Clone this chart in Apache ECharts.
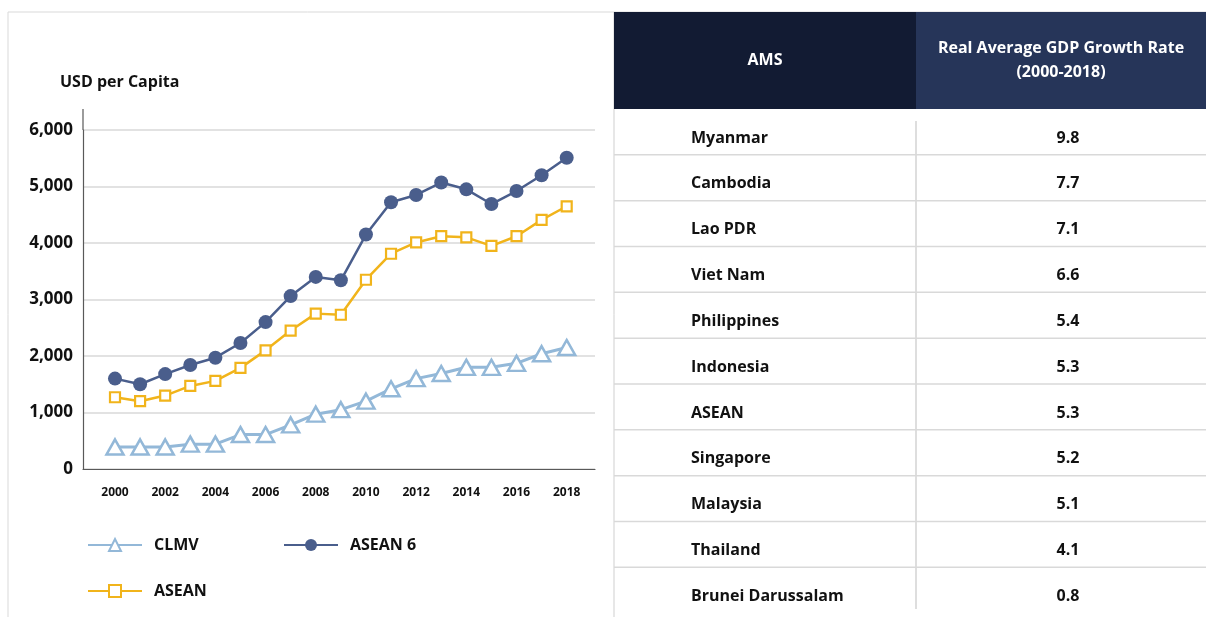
<!DOCTYPE html>
<html>
<head>
<meta charset="utf-8">
<script src="https://cdn.jsdelivr.net/npm/echarts@6/dist/echarts.min.js"></script>
<style>
html,body{margin:0;padding:0;background:#fff;}
#chart{width:1206px;height:617px;}
</style>
</head>
<body>
<div id="chart"></div>
<script>
// ---------- DATA ----------
const years = [2000,2001,2002,2003,2004,2005,2006,2007,2008,2009,2010,2011,2012,2013,2014,2015,2016,2017,2018];
const xTickLabels = [2000,2002,2004,2006,2008,2010,2012,2014,2016,2018];
const clmv   = [390,390,390,440,440,610,610,780,970,1050,1200,1420,1600,1690,1800,1800,1870,2040,2150];
const asean6 = [1600,1500,1680,1840,1970,2230,2600,3060,3400,3340,4150,4720,4850,5070,4950,4690,4920,5200,5510];
const asean  = [1270,1200,1300,1470,1560,1790,2100,2450,2750,2730,3350,3810,4010,4120,4100,3950,4120,4410,4650];
const yTicks = [0,1000,2000,3000,4000,5000,6000];
const tableHeader = ['AMS', 'Real Average GDP Growth Rate\n(2000-2018)'];
const amsNames = ['Myanmar','Cambodia','Lao PDR','Viet Nam','Philippines','Indonesia','ASEAN','Singapore','Malaysia','Thailand','Brunei Darussalam'];
const growthRates = [9.8,7.7,7.1,6.6,5.4,5.3,5.3,5.2,5.1,4.1,0.8];

// ---------- STYLE / LAYOUT ----------
const FONT = '"Open Sans"';
const C_CLMV = '#93b8d8', C_A6 = '#4a5e8c', C_ASEAN = '#f1b41b';
const TX0 = 614, TCOL = 916, TX1 = 1206, THEAD_T = 12, THEAD_B = 109, ROW_H = 45.83;

const chart = echarts.init(document.getElementById('chart'), null, {renderer:'canvas'});

function pair(arr){ return years.map((y,i)=>[y, arr[i]]); }

const graphics = [];
// outer light borders
graphics.push({type:'line', shape:{x1:8,y1:12,x2:TX1,y2:12}, style:{stroke:'#d9d9d9', lineWidth:1}, z:1});
graphics.push({type:'line', shape:{x1:8,y1:12,x2:8,y2:617}, style:{stroke:'#d9d9d9', lineWidth:1}, z:1});
graphics.push({type:'line', shape:{x1:TX0,y1:12,x2:TX0,y2:617}, style:{stroke:'#cfcfcf', lineWidth:1}, z:1});
// y-axis extension above top gridline
graphics.push({type:'line', shape:{x1:83,y1:109,x2:83,y2:130}, style:{stroke:'#595959', lineWidth:1.2}, z:5});
// header
graphics.push({type:'rect', shape:{x:TX0,y:THEAD_T,width:TCOL-TX0,height:THEAD_B-THEAD_T}, style:{fill:'#121b33'}, z:2});
graphics.push({type:'rect', shape:{x:TCOL,y:THEAD_T,width:TX1-TCOL,height:THEAD_B-THEAD_T}, style:{fill:'#263559'}, z:2});
graphics.push({type:'text', x:(TX0+TCOL)/2, y:(THEAD_T+THEAD_B)/2, style:{text:tableHeader[0], fill:'#fff', font:'bold 16px '+FONT, align:'center', verticalAlign:'middle'}, z:3});
graphics.push({type:'text', x:(TCOL+TX1)/2, y:(THEAD_T+THEAD_B)/2, style:{text:tableHeader[1], fill:'#fff', font:'bold 16px '+FONT, align:'center', verticalAlign:'middle', lineHeight:24}, z:3});
// vertical divider in body
graphics.push({type:'line', shape:{x1:TCOL,y1:121,x2:TCOL,y2:609}, style:{stroke:'#bdbdbd', lineWidth:1}, z:2});
// rows
amsNames.forEach((name,i)=>{
  const top = THEAD_B + ROW_H*i;
  graphics.push({type:'text', x:691, y:top+29, style:{text:name, fill:'#111', font:'bold 16px '+FONT, align:'left', verticalAlign:'middle'}, z:3});
  graphics.push({type:'text', x:1068, y:top+29, style:{text:growthRates[i].toFixed(1), fill:'#111', font:'bold 16px '+FONT, align:'center', verticalAlign:'middle'}, z:3});
  if (i < amsNames.length-1) {
    const ly = THEAD_B + ROW_H*(i+1);
    graphics.push({type:'line', shape:{x1:TX0,y1:ly,x2:TX1,y2:ly}, style:{stroke:'#d9d9d9', lineWidth:1.5}, z:2});
  }
});

const legendText = {fontFamily:'Open Sans', fontWeight:'bold', fontSize:16, color:'#111', padding:[0,0,0,7]};

chart.setOption({
  animation:false,
  backgroundColor:'#fff',
  textStyle:{fontFamily:'Open Sans'},
  title:{text:'USD per Capita', left:60, top:74, padding:0, textStyle:{fontFamily:'Open Sans', fontWeight:'bold', fontSize:16, color:'#111'}},
  grid:{left:83, right:611, top:130, bottom:148, containLabel:false},
  legend:[
    {data:['CLMV'], left:82, top:532, itemWidth:54, itemHeight:15, textStyle:legendText},
    {data:['ASEAN 6'], left:278, top:532, itemWidth:54, itemHeight:15, textStyle:legendText},
    {data:['ASEAN'], left:82, top:578, itemWidth:54, itemHeight:15, textStyle:legendText}
  ],
  xAxis:{
    type:'value', min:1998.725, max:2019.128,
    axisLine:{show:true, lineStyle:{color:'#595959', width:1.2}},
    axisTick:{show:false},
    splitLine:{show:false},
    axisLabel:{customValues:xTickLabels, formatter:v=>String(v), margin:18, fontFamily:'Open Sans', fontWeight:'bold', fontSize:12, color:'#111'}
  },
  yAxis:{
    type:'value', min:0, max:6000, interval:1000,
    axisLine:{show:true, lineStyle:{color:'#595959', width:1.2}},
    axisTick:{show:false},
    splitLine:{show:true, lineStyle:{color:'#d9d9d9', width:1.5}},
    axisLabel:{margin:10, fontFamily:'Open Sans', fontWeight:'bold', fontSize:17, color:'#111'}
  },
  series:[
    {name:'CLMV', type:'line', data:pair(clmv), symbol:'triangle', symbolSize:[17,15],
     lineStyle:{color:C_CLMV, width:3}, itemStyle:{color:'#fff', borderColor:C_CLMV, borderWidth:2.5}, z:3},
    {name:'ASEAN 6', type:'line', data:pair(asean6), symbol:'circle', symbolSize:14,
     lineStyle:{color:C_A6, width:2.5}, itemStyle:{color:C_A6, borderColor:C_A6, borderWidth:0}, z:4},
    {name:'ASEAN', type:'line', data:pair(asean), symbol:'rect', symbolSize:10,
     lineStyle:{color:C_ASEAN, width:2.5}, itemStyle:{color:'#fff', borderColor:C_ASEAN, borderWidth:2.2}, z:5}
  ],
  graphic:graphics
});
</script>
</body>
</html>
